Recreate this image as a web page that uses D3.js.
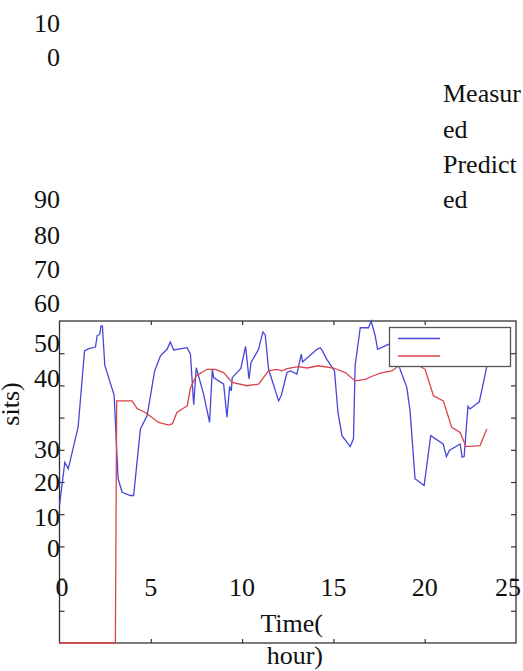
<!DOCTYPE html>
<html>
<head>
<meta charset="utf-8">
<script src="https://cdn.jsdelivr.net/npm/d3@7"></script>
<style>
  html, body { margin: 0; padding: 0; background: #fff; overflow: hidden; }
  text { font-family: "Liberation Serif", "Times New Roman", serif; fill: #111; }
</style>
</head>
<body>
<script>
// measured series (hours, value)
const measuredHours = [0, 0.29, 0.48, 1.02, 1.37, 1.60, 1.97, 2.06, 2.20, 2.28, 2.35, 2.48, 2.99, 3.21, 3.43, 3.88, 4.06,
  4.43, 4.80, 5.21, 5.53, 5.89, 6.07, 6.25, 6.99, 7.17, 7.35, 7.49, 7.89, 8.22, 8.37, 8.44, 8.99, 9.17, 9.32, 9.41, 9.46,
  9.93, 10.19, 10.38, 10.49, 10.90, 11.14, 11.27, 11.45, 12.00, 12.14, 12.46, 12.64, 13.00, 13.24, 13.31, 14.10, 14.28,
  14.40, 14.64, 15.06, 15.25, 15.47, 15.92, 16.10, 16.19, 16.47, 16.92, 17.07, 17.29, 17.42, 18.11, 18.38, 18.65, 19.02,
  19.20, 19.47, 19.97, 20.33, 21.01, 21.19, 21.35, 21.94, 22.05, 22.16, 22.37, 22.48, 22.99, 23.39, 23.58];
const measured = [42.7, 56.1, 54.1, 67.0, 90.7, 91.4, 91.9, 95.4, 95.9, 98.5, 98.5, 86.3, 77.0, 51.0, 46.8, 45.8, 45.8,
  66.5, 70.6, 84.5, 89.2, 91.2, 93.5, 91.0, 91.7, 89.7, 74.0, 85.5, 77.3, 68.5, 85.0, 82.4, 80.4, 70.1, 79.7, 78.3, 82.4,
  85.3, 92.1, 82.0, 87.1, 91.2, 96.6, 95.6, 85.0, 75.2, 76.8, 84.0, 84.5, 83.5, 89.7, 87.3, 91.2, 91.7,
  90.7, 88.1, 84.5, 71.6, 64.4, 61.0, 63.4, 86.1, 97.9, 97.9, 100, 95.4, 91.2, 93.0, 90.7, 85.0, 79.4,
  72.1, 51.0, 48.9, 64.4, 61.8, 57.9, 59.8, 61.8, 57.7, 57.9, 73.5, 72.7, 74.9, 85.5, 90.7];

// predicted series (hours, value)
const predictedHours = [0, 3.06, 3.13, 3.43, 3.98, 4.25, 4.70, 5.43, 5.98, 6.18, 6.43, 7.00, 7.17, 7.49, 8.08, 8.53, 8.99,
  9.45, 10.27, 10.90, 11.45, 11.91, 12.18, 12.46, 13.09, 13.55, 14.18, 15.01, 15.65, 16.19, 16.74, 17.19, 17.56, 18.20,
  18.65, 19.47, 20.02, 20.48, 21.02, 21.48, 21.94, 22.26, 23.03, 23.40];
const predicted = [0, 0, 75.2, 75.2, 75.2, 72.8, 71.6, 68.5, 67.7, 68.1, 71.6, 73.7, 79.1, 83.0, 85.0, 85.0, 84.0,
  80.9, 79.9, 80.4, 84.5, 85.0, 84.5, 85.2, 85.8, 85.4, 86.1, 85.4, 84.0, 81.4, 81.9, 83.0, 83.8, 84.5,
  86.4, 87.0, 85.0, 76.8, 75.2, 67.0, 65.4, 61.0, 61.3, 66.5];

// tick labels as they sit on the page
const yTickLabels = ["10", "0", "90", "80", "70", "60", "50", "40", "30", "20", "10", "0"];
const yTickLabelY = [22.7, 57.3, 199, 235, 269, 303, 343, 378, 449, 482, 517, 548];
const xTickLabels = ["0", "5", "10", "15", "20", "25"];
const legendWords = ["Measur", "ed", "Predict", "ed"];
const legendWordY = [93.3, 129.3, 164, 199.3];

const W = 523, H = 671;
const pLeft = 59.5, pRight = 516, pTop = 321, pBottom = 643;

const svg = d3.select("body").append("svg")
  .attr("width", W)
  .attr("height", H);

const x = d3.scaleLinear().domain([0, 25]).range([pLeft, pRight]);
const y = d3.scaleLinear().domain([0, 100]).range([pBottom, pTop]);

// frame
svg.append("rect")
  .attr("x", pLeft).attr("y", pTop)
  .attr("width", pRight - pLeft).attr("height", pBottom - pTop)
  .attr("fill", "none").attr("stroke", "#333").attr("stroke-width", 1.3);

// inward ticks, no labels
const styleAxis = g => {
  g.select(".domain").remove();
  g.selectAll(".tick line").attr("stroke", "#333").attr("stroke-width", 1.2);
  g.selectAll(".tick text").remove();
};
svg.append("g").attr("transform", "translate(" + pLeft + ",0)")
  .call(d3.axisLeft(y).tickValues(d3.range(10, 100, 10)).tickSize(-5)).call(styleAxis);
svg.append("g").attr("transform", "translate(" + pRight + ",0)")
  .call(d3.axisRight(y).tickValues(d3.range(10, 100, 10)).tickSize(-5)).call(styleAxis);
svg.append("g").attr("transform", "translate(0," + pBottom + ")")
  .call(d3.axisBottom(x).tickValues([5, 10, 15, 20]).tickSize(-4)).call(styleAxis);
svg.append("g").attr("transform", "translate(0," + pTop + ")")
  .call(d3.axisTop(x).tickValues([5, 10, 15, 20]).tickSize(-4)).call(styleAxis);

// lines
const line = d3.line().x(d => x(d[0])).y(d => y(d[1]));
svg.append("path")
  .datum(measuredHours.map((h, i) => [h, measured[i]]))
  .attr("d", line).attr("fill", "none")
  .attr("stroke", "#4646d8").attr("stroke-width", 1.3);
svg.append("path")
  .datum(predictedHours.map((h, i) => [h, predicted[i]]))
  .attr("d", line).attr("fill", "none")
  .attr("stroke", "#d9434b").attr("stroke-width", 1.3);

// legend box (texts landed elsewhere)
const lg = svg.append("g");
lg.append("rect")
  .attr("x", 389.5).attr("y", 327.5).attr("width", 121).attr("height", 39)
  .attr("fill", "#fff").attr("stroke", "#555").attr("stroke-width", 1.3);
lg.append("line").attr("x1", 398).attr("x2", 440).attr("y1", 338.5).attr("y2", 338.5)
  .attr("stroke", "#4646d8").attr("stroke-width", 1.3);
lg.append("line").attr("x1", 398).attr("x2", 440).attr("y1", 356).attr("y2", 356)
  .attr("stroke", "#d9434b").attr("stroke-width", 1.3);

svg.selectAll(".lw").data(legendWords).enter().append("text")
  .attr("x", 443).attr("y", (d, i) => legendWordY[i]).attr("dy", "0.34em")
  .style("font-size", "26px").text(d => d);

// y tick labels
svg.selectAll(".yl").data(yTickLabels).enter().append("text")
  .attr("x", 60).attr("y", (d, i) => yTickLabelY[i]).attr("dy", "0.34em")
  .attr("text-anchor", "end").style("font-size", "26px").text(d => d);

// x tick labels
svg.selectAll(".xl").data(xTickLabels).enter().append("text")
  .attr("x", d => Math.min(x(+d) + (+d === 0 ? 2.5 : 0), 508))
  .attr("y", 587).attr("dy", "0.34em")
  .attr("text-anchor", "middle").style("font-size", "26px").text(d => d);

// axis titles
svg.append("text").attr("x", 323).attr("y", 623).attr("dy", "0.34em")
  .attr("text-anchor", "end").style("font-size", "26px").text("Time(");
svg.append("text").attr("x", 323).attr("y", 655).attr("dy", "0.34em")
  .attr("text-anchor", "end").style("font-size", "26px").text("hour)");
svg.append("text")
  .attr("transform", "translate(19,404) rotate(-90)")
  .attr("text-anchor", "middle").style("font-size", "26px").text("sits)");
</script>
</body>
</html>
